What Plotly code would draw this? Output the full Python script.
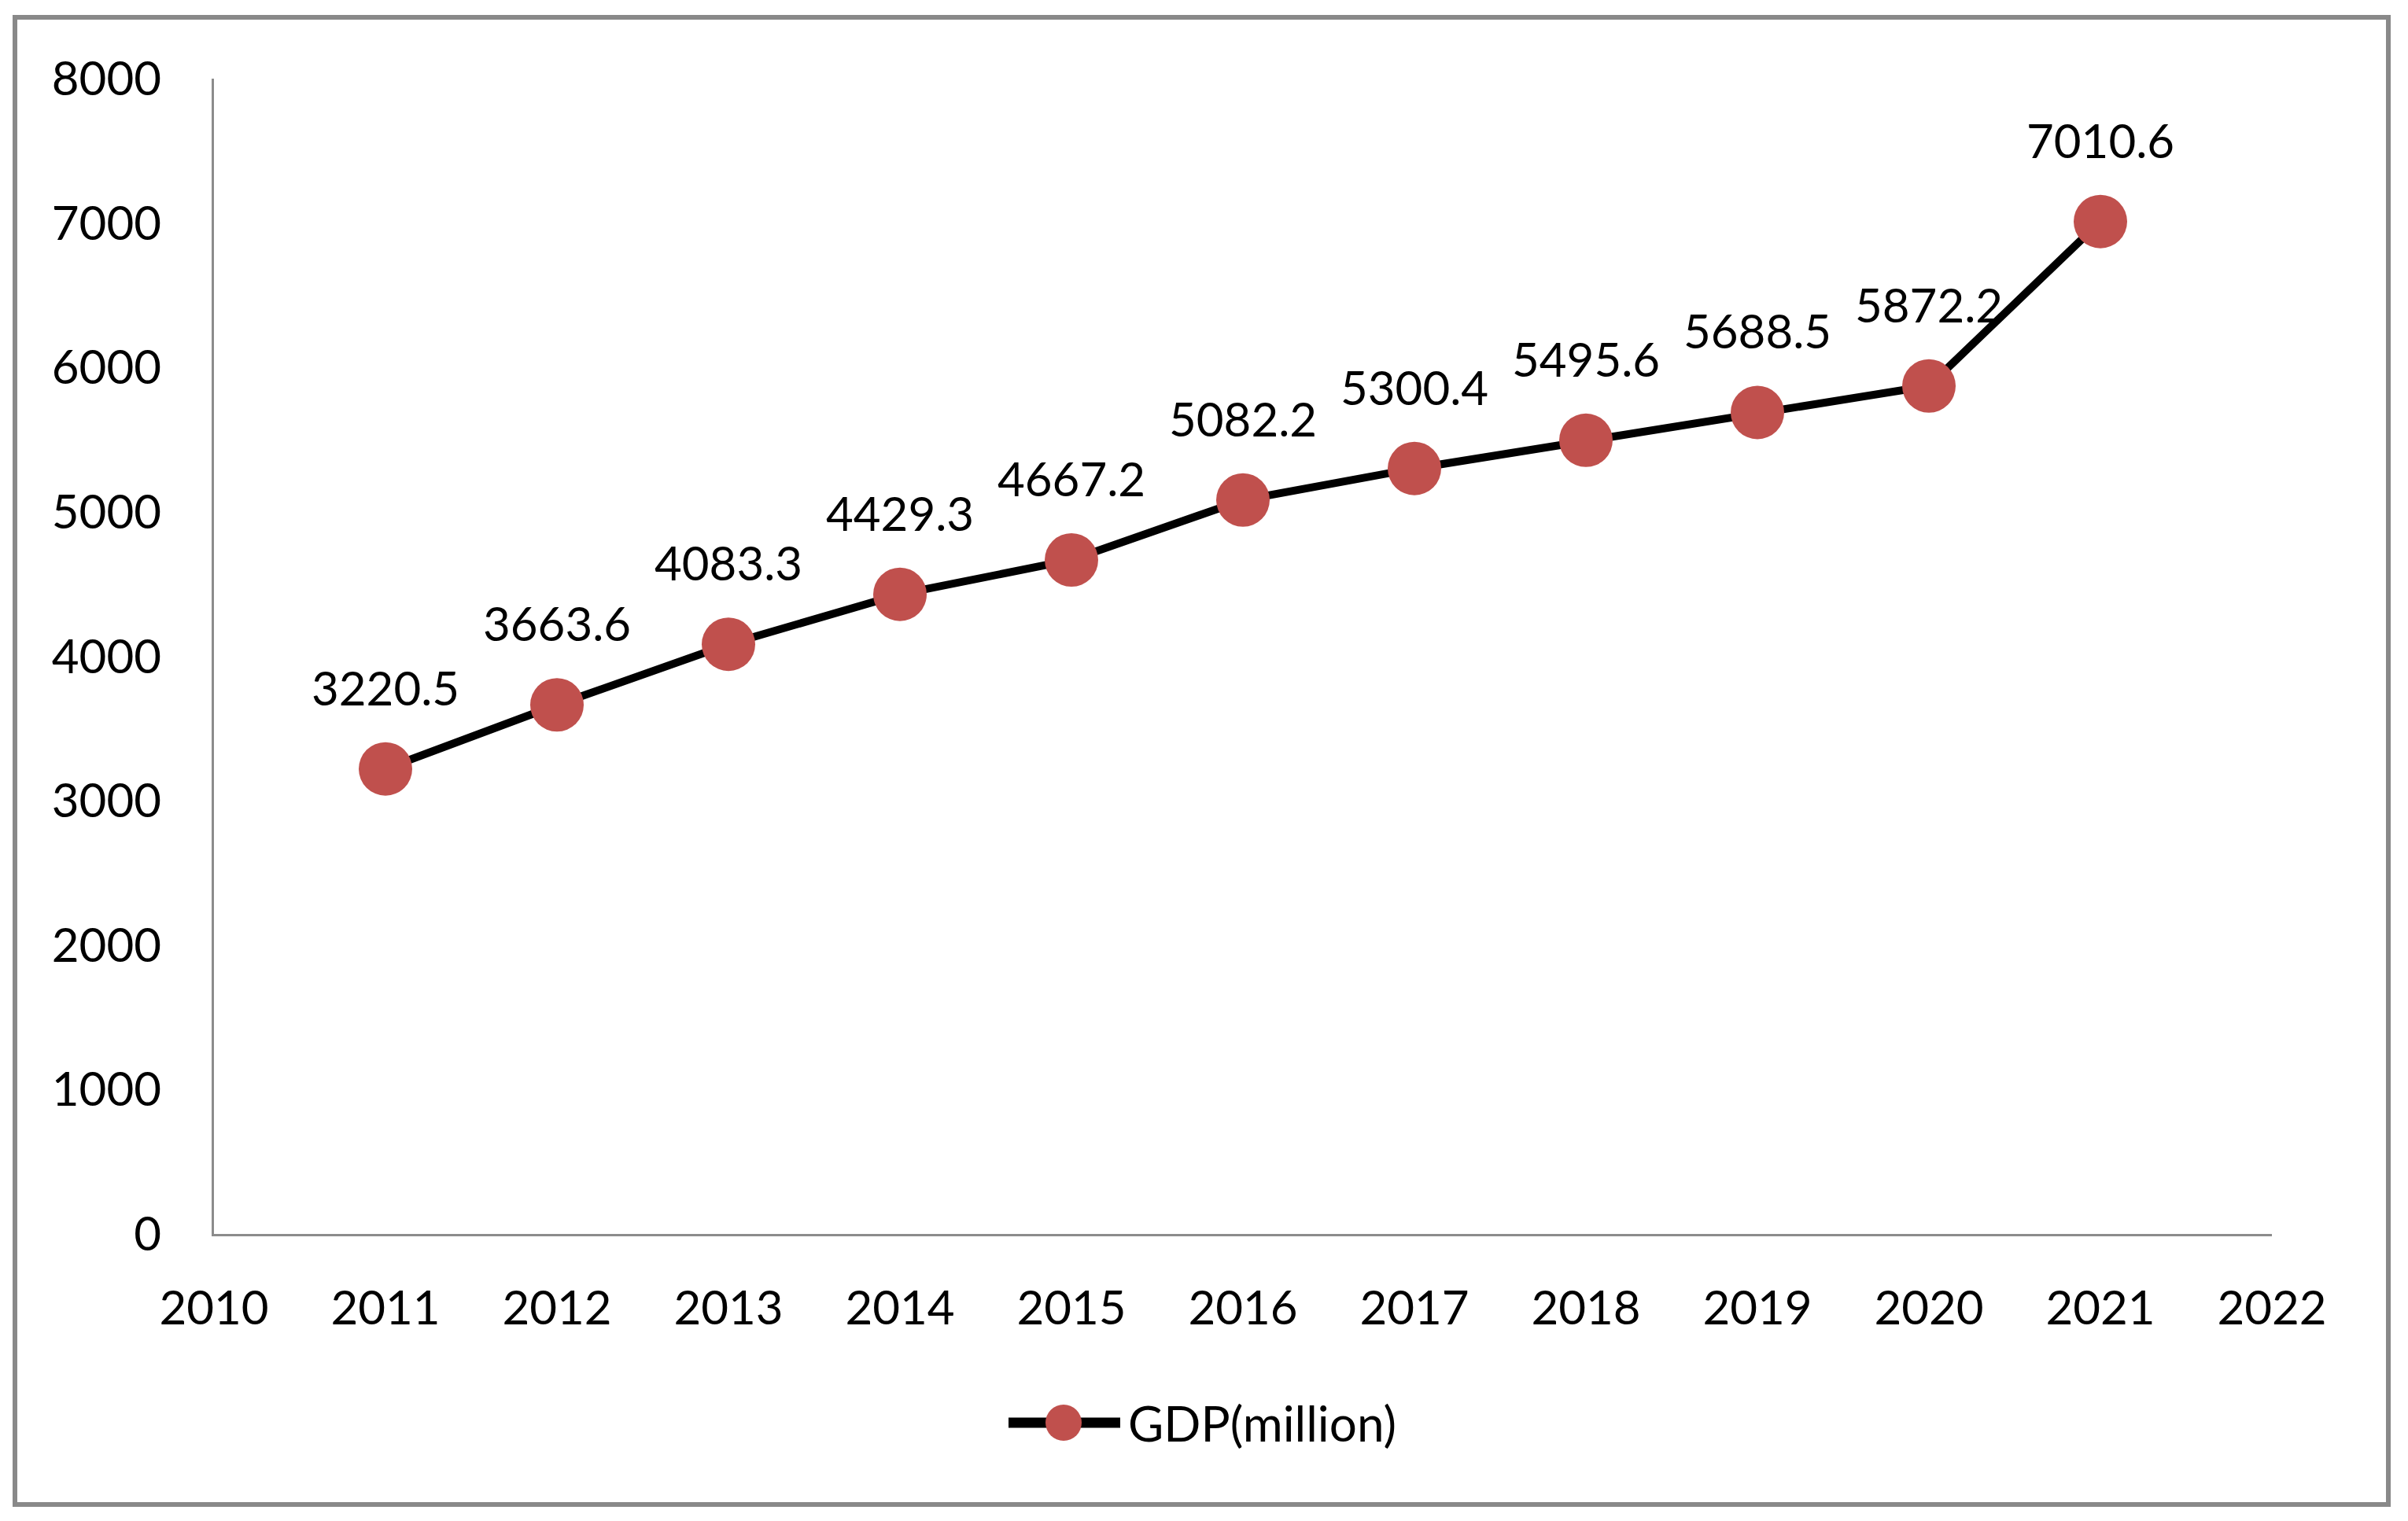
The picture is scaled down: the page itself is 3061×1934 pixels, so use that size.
import plotly.graph_objects as go

years = [2011, 2012, 2013, 2014, 2015, 2016, 2017, 2018, 2019, 2020, 2021]
gdp = [3220.5, 3663.6, 4083.3, 4429.3, 4667.2, 5082.2, 5300.4, 5495.6, 5688.5, 5872.2, 7010.6]
x_ticks = list(range(2010, 2023))
y_ticks = [0, 1000, 2000, 3000, 4000, 5000, 6000, 7000, 8000]
series_name = "GDP(million)"

FONT = "Lato"
OFF = 8  # browser body margin
W, H = 3061 - OFF, 1934 - OFF
ml, mr, mt, mb = 272 - OFF, 173, 100 - OFF, 365
pw, ph = W - ml - mr, H - mt - mb
RED = "#C0504D"

fig = go.Figure()
fig.add_trace(go.Scatter(
    x=years, y=gdp, mode="lines+markers", name=series_name,
    line=dict(color="black", width=10),
    marker=dict(color=RED, size=68, line=dict(width=0)),
    showlegend=False,
))

for xv, yv in zip(years, gdp):
    fig.add_annotation(x=xv, y=yv, text=f"{yv:.1f}", showarrow=False,
                       yanchor="middle", xanchor="center", yshift=104,
                       font=dict(family=FONT, size=60, color="black"))

# page pixel -> paper coordinates
def px_x(p):
    return (p - OFF - ml) / pw
def px_y(p):
    return (H + OFF - mb - p) / ph

# outer border
fig.add_shape(type="rect", xref="paper", yref="paper",
              x0=px_x(19), x1=px_x(3036), y0=px_y(1913), y1=px_y(22),
              line=dict(color="#898989", width=6), fillcolor="rgba(0,0,0,0)", layer="below")

# legend (drawn)
leg_y = 1809
fig.add_shape(type="line", xref="paper", yref="paper",
              x0=px_x(1282), x1=px_x(1424), y0=px_y(leg_y), y1=px_y(leg_y),
              line=dict(color="black", width=13))
fig.add_shape(type="circle", xref="paper", yref="paper",
              xsizemode="pixel", ysizemode="pixel",
              xanchor=px_x(1352), yanchor=px_y(leg_y),
              x0=-23, x1=23, y0=-23, y1=23,
              fillcolor=RED, line=dict(width=0))
fig.add_annotation(xref="paper", yref="paper", x=px_x(1432), y=px_y(leg_y),
                   xanchor="left", yanchor="middle", showarrow=False,
                   text=series_name, font=dict(family=FONT, size=62, color="black"))

fig.update_layout(
    width=W, height=H,
    margin=dict(l=ml, r=mr, t=mt, b=mb, pad=0),
    paper_bgcolor="white", plot_bgcolor="white",
    font=dict(family=FONT, size=60, color="black"),
    xaxis=dict(range=[2010, 2022], tickvals=x_ticks, ticktext=[str(v) for v in x_ticks],
               showline=True, linecolor="#8c8c8c", linewidth=3, showgrid=False,
               zeroline=False, ticks="", ticklabelstandoff=40,
               tickfont=dict(family=FONT, size=60, color="black")),
    yaxis=dict(range=[0, 8000], tickvals=y_ticks, ticktext=[str(v) for v in y_ticks],
               showline=True, linecolor="#8c8c8c", linewidth=3, showgrid=False,
               zeroline=False, ticks="", ticklabelstandoff=52,
               tickfont=dict(family=FONT, size=60, color="black")),
    showlegend=False,
)

fig.write_html("out.html")
